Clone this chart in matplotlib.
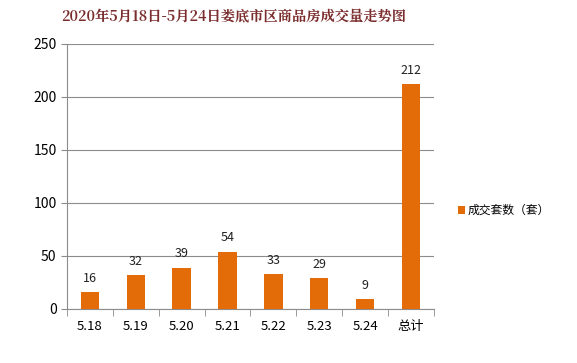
import matplotlib
matplotlib.use("Agg")
import matplotlib.pyplot as plt
import numpy as np

plt.rcParams['font.family'] = ['Noto Sans CJK SC', 'DejaVu Sans']

categories = ['5.18', '5.19', '5.20', '5.21', '5.22', '5.23', '5.24', '总计']
values = [16, 32, 39, 54, 33, 29, 9, 212]
series_name = '成交套数（套）'
title = '2020年5月18日-5月24日娄底市区商品房成交量走势图'

fig = plt.figure(figsize=(5.77, 3.63), dpi=100)
ax = fig.add_axes([0.116, 0.149, 0.636, 0.730])

x = np.arange(len(categories))
color = '#E36C09'
bars = ax.bar(x, values, width=0.4, color=color, label=series_name, zorder=3)
for xi, v in zip(x, values):
    ax.text(xi, v + 7, str(v), ha='center', va='bottom', fontsize=9, color='#222222')

ax.set_xlim(-0.5, len(categories) - 0.5)
ax.set_ylim(0, 250)
ax.set_yticks(range(0, 251, 50))
ax.yaxis.grid(True, color='#8c8c8c', linewidth=0.8, zorder=0)
ax.set_axisbelow(True)

for s in ['top', 'right']:
    ax.spines[s].set_visible(False)
ax.spines['left'].set_color('#8c8c8c')
ax.spines['bottom'].set_color('#8c8c8c')

ax.set_xticks(x)
ax.set_xticklabels(categories, fontsize=9.5)
ax.tick_params(axis='x', length=0, pad=8)
ax.set_xticks(np.arange(-0.5, len(categories), 1), minor=True)
ax.tick_params(axis='x', which='minor', length=5, color='#8c8c8c')
ax.tick_params(axis='y', length=4, color='#8c8c8c', labelsize=10)

fig.text(0.405, 0.953, title, ha='center', va='center', fontsize=10.3,
         color='#7B2D2D', fontweight='semibold', family=['Noto Serif CJK SC', 'Noto Sans CJK SC', 'DejaVu Serif'])

leg = fig.legend(handles=[bars], labels=[series_name], loc='center left',
                 bbox_to_anchor=(0.775, 0.42), frameon=False, fontsize=8.5,
                 handlelength=0.6, handleheight=0.6, handletextpad=0.2)

fig.savefig('out.png', dpi=100, facecolor='white')
